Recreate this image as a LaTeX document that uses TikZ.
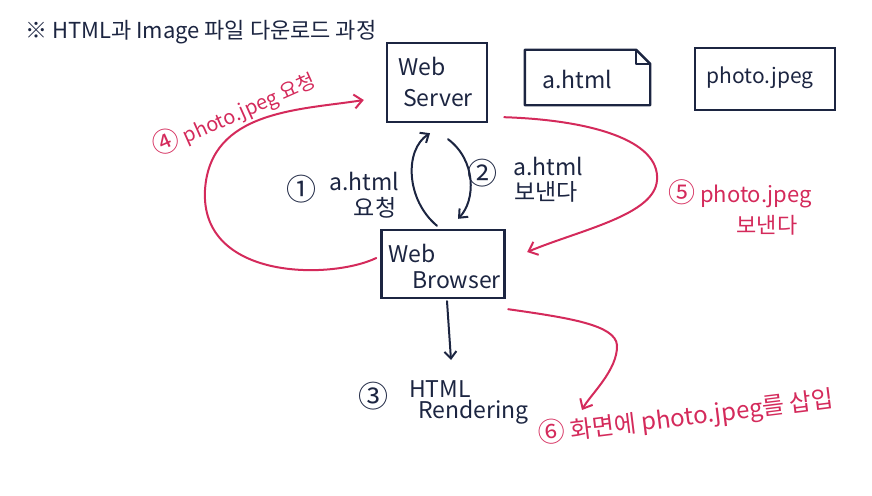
\documentclass[tikz,border=0pt]{standalone}
\usepackage{fontspec}
\setmainfont{Noto Sans CJK KR}
\usetikzlibrary{arrows.meta}
\definecolor{ink}{RGB}{28,37,65}
\definecolor{pen}{RGB}{212,42,91}
\newcommand{\bignum}[1]{{\fontsize{27}{27}\selectfont #1}}
\begin{document}
\begin{tikzpicture}[x=1pt,y=1pt,
  box/.style={draw=ink,line width=2.4pt,inner sep=0pt},
  txt/.style={text=ink,font=\fontsize{23}{26}\selectfont,inner sep=1pt},
  numb/.style={text=ink,font=\fontsize{30}{30}\selectfont,inner sep=1pt},
  rtxt/.style={text=pen,font=\fontsize{22}{25}\selectfont,inner sep=1pt},
  blkarrow/.style={draw=ink,line width=2pt,line cap=round,-{Straight Barb[length=7pt,width=12pt]}},
  redarrow/.style={draw=pen,line width=2pt,line cap=round,-{Straight Barb[length=8pt,width=14pt]}}]
\useasboundingbox (0,0) rectangle (872,-495);
% title
\node[txt,anchor=west,font=\fontsize{22}{25}\selectfont] (title) at (24,-32) {※ HTML과 Image 파일 다운로드 과정};
% boxes
\node[box,minimum width=100pt,minimum height=79pt] (server) at (437,-82.5) {};
\node[txt,anchor=west] (serverA) at (397,-66) {Web};
\node[txt,anchor=west] (serverB) at (402,-98) {Server};
\node[minimum width=125pt,minimum height=55pt,inner sep=0pt] (ahtml) at (587.5,-77.5) {};
\draw[ink,line width=2.4pt,line join=round] (ahtml.north west) -- ([xshift=-14pt]ahtml.north east) -- ([yshift=-14pt]ahtml.north east) -- (ahtml.south east) -- (ahtml.south west) -- cycle;
\draw[ink,line width=2pt,line join=round] ([xshift=-14pt]ahtml.north east) |- ([yshift=-14pt]ahtml.north east);
\node[txt] (ahtmlT) at (577,-79) {a.html};
\node[box,minimum width=140pt,minimum height=62pt] (photo) at (765,-79) {};
\node[txt,font=\fontsize{21}{24}\selectfont] (photoT) at (760,-78) {photo.jpeg};
\node[box,minimum width=123pt,minimum height=68pt] (browser) at (443,-264) {};
\node[txt,anchor=west] (browserA) at (387,-253) {Web};
\node[txt,anchor=west] (browserB) at (411,-280) {Browser};
% black arcs
\draw[blkarrow] ([xshift=-6pt,yshift=3pt]browser.north) .. controls (406,-200) and (404,-150) .. ([xshift=-7pt,yshift=-10pt]server.south);
\draw[blkarrow] ([xshift=11pt,yshift=-16pt]server.south) .. controls (476,-160) and (476,-200) .. ([xshift=15pt,yshift=10pt]browser.north);
\coordinate (rend) at (451,-360);
\draw[blkarrow] ([xshift=4pt,yshift=-2pt]browser.south) -- (rend);
% black labels
\node[numb] (c1) at (301,-189) {①};
\node[txt] (l1a) at (364,-181) {a.html};
\node[txt] (l1b) at (375,-208) {요청};
\node[numb] (c2) at (482,-173) {②};
\node[txt] (l2a) at (548,-166) {a.html};
\node[txt] (l2b) at (546,-192) {보낸다};
\node[numb] (c3) at (373,-396) {③};
\node[txt,anchor=west] (l3a) at (408,-389) {HTML};
\node[txt,anchor=west] (l3b) at (417,-412) {Rendering};
% red arcs
\draw[redarrow] ([xshift=-4pt,yshift=6pt]browser.west) .. controls (330,-280) and (200,-280) .. (205,-190) .. controls (210,-110) and (300,-110) .. ([xshift=-22pt,yshift=-17.5pt]server.west);
\draw[redarrow] ([xshift=16pt,yshift=6pt]server.south east) .. controls (590,-120) and (660,-140) .. (657,-180) .. controls (655,-215) and (580,-230) .. ([xshift=21.5pt,yshift=12pt]browser.east);
\coordinate (r6) at (582,-410);
\draw[redarrow] ([xshift=2.5pt,yshift=-10pt]browser.south east) .. controls (570,-318) and (615,-325) .. (617,-345) .. controls (618,-370) and (590,-395) .. (r6);
% red labels
\node[rtxt,rotate=24,font=\fontsize{20}{23}\selectfont] (l4) at (234,-113) {\bignum{④} photo.jpeg 요청};
\node[rtxt] (l5a) at (740,-194) {\bignum{⑤} photo.jpeg};
\node[rtxt] (l5b) at (767,-225) {보낸다};
\node[rtxt,rotate=7,font=\fontsize{24}{27}\selectfont] (l6) at (686,-417) {\bignum{⑥} 화면에 photo.jpeg를 삽입};
\end{tikzpicture}
\end{document}
